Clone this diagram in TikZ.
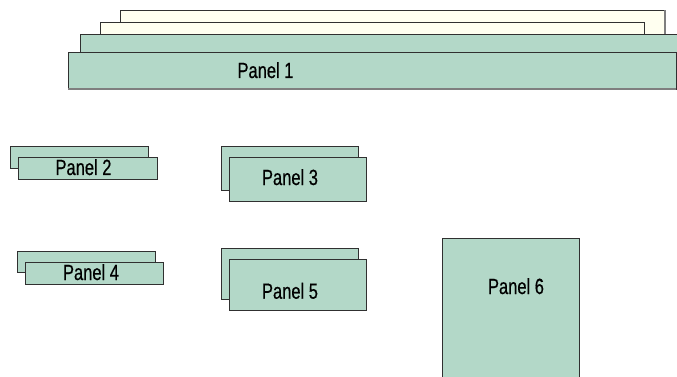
\documentclass[tikz,border=0pt]{standalone}
\usepackage{fontspec}
\setmainfont{Liberation Sans}[FakeStretch=0.75,FakeBold=0.5]
\definecolor{pgreen}{HTML}{B3D8C8}
\definecolor{pcream}{HTML}{FFFFF0}
\definecolor{pline}{HTML}{303030}
\definecolor{pshade}{HTML}{7F7F7F}
\begin{document}
\begin{tikzpicture}[x=1pt,y=-1pt,
  box/.style={draw=pline,line width=0.9pt,fill=pgreen,anchor=north west,inner sep=0pt,outer sep=0pt},
  cbox/.style={box,fill=pcream},
  shadeline/.style={draw=pshade,line width=1.6pt},
  lbl/.style={inner sep=0pt,anchor=base,font=\fontsize{22}{24}\selectfont,text=black}]
\useasboundingbox (0,0) rectangle (677,377);
\clip (0,0) rectangle (677,377);
% Panel 1 stack
\node[cbox,minimum width=545pt,minimum height=24pt] (c1) at (120,10.5) {};
\draw[shadeline] (c1.north east) -- (c1.south east);
\node[cbox,minimum width=544pt,minimum height=12pt] (c2) at (100,22.5) {};
\node[box,minimum width=600pt,minimum height=18pt] (b1) at (80,34.3) {};
\node[box,minimum width=608pt,minimum height=37pt] (p1) at (68,52.3) {};
\draw[shadeline] (p1.south west) -- (p1.south east);
\node[lbl] (t1) at (265.5,78) {Panel 1};
% Panel 2
\node[box,minimum width=137.5pt,minimum height=22pt] (b2) at (10.7,146.7) {};
\node[box,minimum width=139pt,minimum height=22pt] (p2) at (18.3,157.3) {};
\node[lbl] (t2) at (83.5,175) {Panel 2};
% Panel 3
\node[box,minimum width=137.5pt,minimum height=44pt] (b3) at (221,146.7) {};
\node[box,minimum width=137.5pt,minimum height=44.5pt] (p3) at (229.3,157.3) {};
\node[lbl] (t3) at (290,185) {Panel 3};
% Panel 4
\node[box,minimum width=138.5pt,minimum height=21pt] (b4) at (17.3,251.7) {};
\node[box,minimum width=137.5pt,minimum height=22pt] (p4) at (25.7,262.3) {};
\node[lbl] (t4) at (91,280) {Panel 4};
% Panel 5
\node[box,minimum width=137.5pt,minimum height=51pt] (b5) at (221,248.3) {};
\node[box,minimum width=137.5pt,minimum height=51pt] (p5) at (229.3,259) {};
\node[lbl] (t5) at (290,298.7) {Panel 5};
% Panel 6
\node[box,minimum width=137pt,minimum height=160pt] (p6) at (442.3,238.3) {};
\node[lbl] (t6) at (516,294) {Panel 6};
\end{tikzpicture}
\end{document}
